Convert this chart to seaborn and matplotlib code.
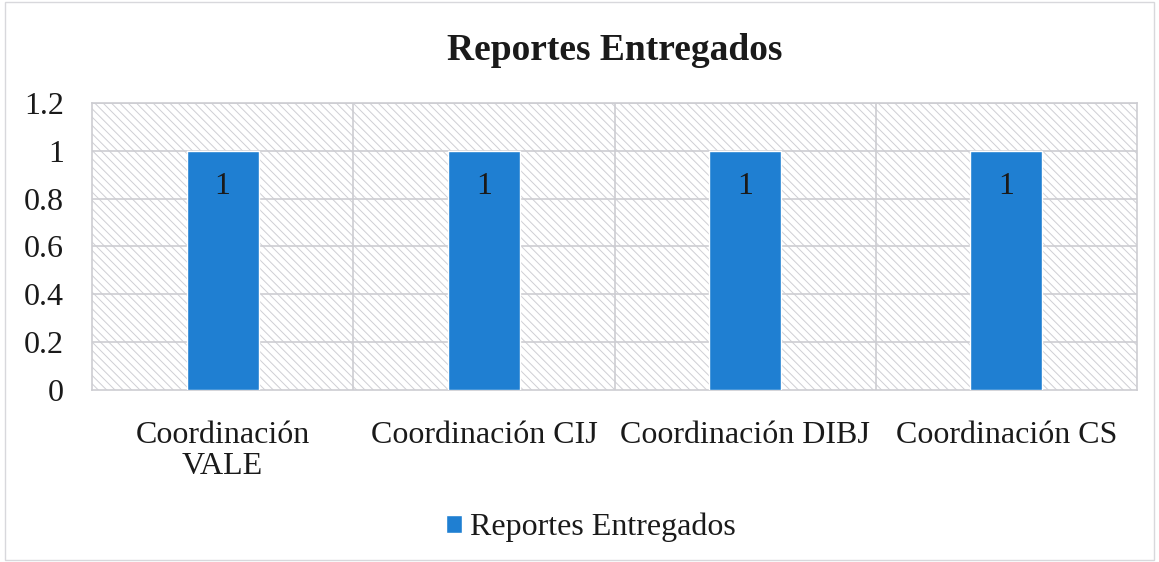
import pandas as pd
import matplotlib.pyplot as plt
import seaborn as sns
from matplotlib.patches import Rectangle

# Data
categorias = ['Coordinación\nVALE', 'Coordinación CIJ', 'Coordinación DIBJ', 'Coordinación CS']
reportes = [1, 1, 1, 1]
serie = 'Reportes Entregados'
y_ticks = [0, 0.2, 0.4, 0.6, 0.8, 1, 1.2]

df = pd.DataFrame({'categoria': categorias, 'valor': reportes, 'serie': serie})

sns.set_style('white')
plt.rcParams['font.family'] = ['Liberation Serif', 'DejaVu Serif']
plt.rcParams['hatch.color'] = '#cfcfd4'
plt.rcParams['hatch.linewidth'] = 0.7

fig = plt.figure(figsize=(11.59, 5.62), dpi=100)
ax = fig.add_axes([0.0794, 0.306, 0.9016, 0.511])

# hatched plot-area background
ax.add_patch(Rectangle((0, 0), 1, 1, transform=ax.transAxes, facecolor='white',
                       hatch='\\\\\\\\', edgecolor='#cfcfd4', linewidth=0, zorder=0))

sns.barplot(data=df, x='categoria', y='valor', hue='serie', palette=['#1f7fd2'],
            width=0.275, saturation=1, ax=ax, zorder=3, legend=True)

ax.set_ylim(0, 1.2)
ax.set_xlim(-0.5, len(categorias) - 0.5)
ax.set_yticks(y_ticks)
ax.set_yticklabels([f'{v:g}' for v in y_ticks])
ax.tick_params(axis='both', length=0, labelsize=23, colors='#1a1a1a')
ax.tick_params(axis='x', pad=22)
ax.tick_params(axis='y', pad=20)
for t in ax.get_xticklabels():
    t.set_linespacing(1.12)
ax.set_xlabel('')
ax.set_ylabel('')

# gridlines
for v in y_ticks[1:]:
    ax.axhline(v, color='#cdcdd2', linewidth=1.2, zorder=1)
for i in range(1, len(categorias)):
    ax.axvline(i - 0.5, color='#cdcdd2', linewidth=1.2, zorder=1)
for s in ax.spines.values():
    s.set_color('#cdcdd2')
    s.set_linewidth(1.2)

for c in ax.containers:
    ax.bar_label(c, labels=[str(v) for v in reportes], padding=-36,
                 fontsize=23, color='#1a1a1a')

ax.set_title('Reportes Entregados', fontsize=27, fontweight='bold', color='#1a1a1a', pad=31)

leg = ax.legend(loc='center', bbox_to_anchor=(0.5095, 0.061), bbox_transform=fig.transFigure,
                frameon=False, fontsize=23, handlelength=0.5, handleheight=0.5,
                handletextpad=0.25)
for t in leg.get_texts():
    t.set_color('#1a1a1a')

# outer chart border
fig.add_artist(Rectangle((0.004, 0.004), 0.992, 0.992, transform=fig.transFigure,
                         fill=False, edgecolor='#d8d8dc', linewidth=1))

fig.savefig('out.png', dpi=100)
